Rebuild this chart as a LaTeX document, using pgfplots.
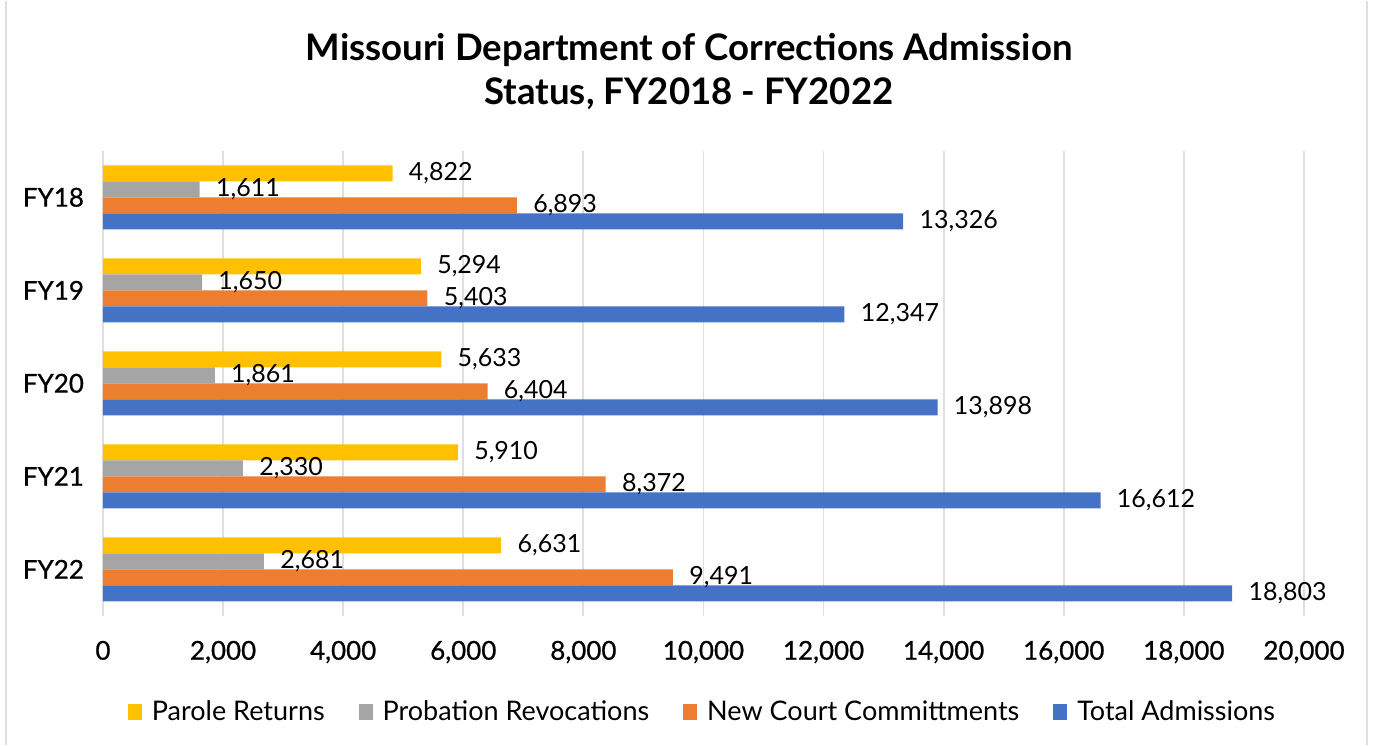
\documentclass[border=0pt]{standalone}
\usepackage{pgfplots}
\pgfplotsset{compat=1.18}
\usepackage{fontspec}
\setmainfont{Lato}
\newfontfamily\semib[FakeBold=0.8]{Lato}
\definecolor{cYel}{HTML}{FFC000}
\definecolor{cGry}{HTML}{A5A5A5}
\definecolor{cOra}{HTML}{ED7D31}
\definecolor{cBlu}{HTML}{4472C4}
\pgfplotsset{
  sqlegend/.style={legend image code/.code={\fill[##1] (0pt,-4pt) rectangle (7pt,4pt);}}
}
\begin{document}
\begin{tikzpicture}
\path (0,0) rectangle (686.5pt,-372pt);
\draw[gray!25, line width=0.8pt] (3pt,0) -- (3pt,-372pt);
\draw[gray!25, line width=0.8pt] (683.5pt,0) -- (683.5pt,-372pt);
\node[align=center, font=\fontsize{18.3}{22}\selectfont\bfseries] at (344.5pt,-35.5pt)
  {Missouri Department of Corrections Admission\\Status, FY2018 - FY2022};
\begin{axis}[
  at={(51.5pt,-75pt)}, anchor=north west,
  scale only axis, width=600.5pt, height=232.5pt,
  xbar=0pt, bar width=8pt,
  xmin=0, xmax=20000, ymin=-0.5, ymax=4.5,
  y dir=reverse,
  ytick={0,1,2,3,4}, yticklabels={FY18,FY19,FY20,FY21,FY22},
  xtick={0,2000,...,20000},
  scaled x ticks=false,
  /pgf/number format/.cd, fixed, precision=0, 1000 sep={,}, assume math mode=true,
  /pgfplots/.cd,
  xmajorgrids, grid style={gray!25, line width=0.9pt},
  axis line style={draw=none}, major tick length=0pt,
  tick label style={font=\fontsize{13}{15}\selectfont\semib},
  xticklabel style={yshift=-9pt},
  yticklabel style={xshift=-6pt},
  point meta=x,
  nodes near coords,
  nodes near coords style={font=\fontsize{12.5}{14}\selectfont, anchor=west, inner sep=0pt, xshift=8pt, text=black},
  legend columns=4,
  legend style={draw=none, at={(0.5,0)}, yshift=-48pt, anchor=center,
    font=\fontsize{13.5}{15}\selectfont,
    /tikz/every odd column/.append style={column sep=3pt},
    /tikz/every even column/.append style={column sep=15pt}},
  sqlegend,
]
\addplot[draw=none, fill=cYel, bar shift=12pt] coordinates {(4822,0) (5294,1) (5633,2) (5910,3) (6631,4)};
\addplot[draw=none, fill=cGry, bar shift=4pt] coordinates {(1611,0) (1650,1) (1861,2) (2330,3) (2681,4)};
\addplot[draw=none, fill=cOra, bar shift=-4pt] coordinates {(6893,0) (5403,1) (6404,2) (8372,3) (9491,4)};
\addplot[draw=none, fill=cBlu, bar shift=-12pt] coordinates {(13326,0) (12347,1) (13898,2) (16612,3) (18803,4)};
\legend{Parole Returns, Probation Revocations, New Court Committments, Total Admissions}
\end{axis}
\end{tikzpicture}
\end{document}
